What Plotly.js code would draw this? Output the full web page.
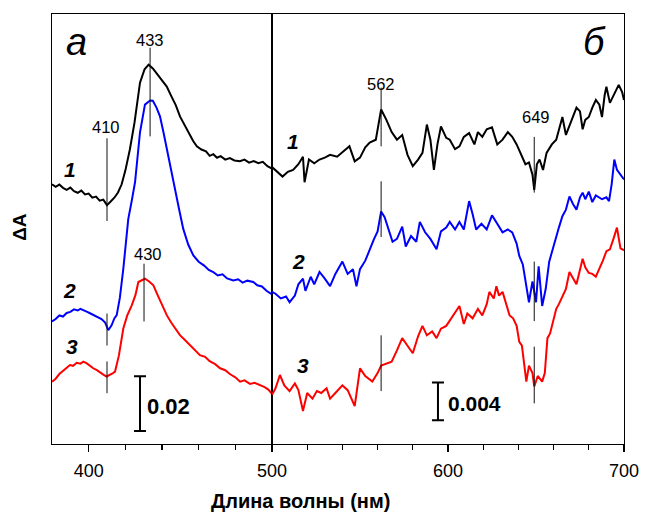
<!DOCTYPE html>
<html>
<head>
<meta charset="utf-8">
<script src="https://cdn.plot.ly/plotly-3.0.1.min.js"></script>
<style>html,body{margin:0;padding:0;background:#fff;}#chart{width:646px;height:513px;}</style>
</head>
<body>
<div id="chart"></div>
<script>
// ---- Panel "а" (380-500 nm), ΔA in units of 1e-3, curves offset as plotted ----
const nmL1 = [380,382,384,386,388,390,392,394,396,398,400,402,404,406,408,410,412,414,416,418,420,422.5,425,428,430.5,432.7,435,437.5,440,442.6,445,447.5,449.8,452,454.5,457,459,461.5,464,466,468,470,472,474.5,477,479.5,482.5,485,487.5,490,492.5,495,497.5,500];
const dAL1 = [94.5,93.6,94.4,93.2,92.5,93.3,92.0,91.4,92.2,90.8,91.1,89.6,90.0,88.5,88.9,86.9,88.2,89.6,91.5,94.5,99.5,107.3,117,131.6,136.5,138.2,136.8,134.5,132.6,130.2,126.8,123.4,119.3,116.5,113.5,110.3,108.4,107.2,106.5,104.9,105.5,104.2,104.8,103.5,104.1,103.2,102.9,103.5,102.4,103.0,102.2,102.7,101.1,100.2];

const nmL2 = [380,382,384,386,388,390,392,394,395.5,397.5,399.5,401,403,405,407,409,410.7,412.5,414,415.3,417,418.9,420.3,421.6,423.5,425.3,428,430.7,433.5,435,437,438.9,440.8,442.6,445,447.1,449.3,451.6,454.3,457.1,460,463,465.5,468,470.5,473,475.5,478.9,481.5,484,486.5,489.8,492,494.5,497,500];
const dAL2 = [44.4,45.3,46.6,46.2,47.5,47.9,48.8,48.4,49.0,48.5,47.8,47.3,46.7,46.0,45.3,44.0,41.2,43.0,45.5,46.7,53,63.6,73,81.8,88.5,95.3,113.5,123.6,125.1,125.0,122.5,119.3,113.5,107.3,99.5,92.7,85.5,78.2,72.5,68.5,66.2,64.8,63.2,62.4,61.2,61.6,60.1,59.4,59.8,58.6,59.3,58.8,57.6,57.2,55.6,54.3];

const nmL3 = [380,382,384,386,388,389.8,391.5,393.5,395.5,397.1,399,401,402.5,404.5,406.5,408,409.8,411.5,413,414.4,416.5,418.9,421,423.5,425.5,427.1,429,430.7,433,435.3,437.5,440,442.6,445,447.5,449.8,452.5,455,458,460.7,463.5,466,469,471.7,474.5,477,480,482.6,485,488,490.5,493.5,496,498,500];
const dAL3 = [22.4,23.5,25.2,26.4,27.6,28.5,28.2,29.3,29.0,29.7,29.1,28.0,27.3,26.6,25.5,25.0,24.3,24.8,25.4,26.1,32,41.8,46.5,50.3,54.0,58.8,59.5,60.0,59.0,57.6,54.2,50.4,46.7,44.0,41.5,39.4,37.6,36.0,34.2,32.1,31.5,29.9,28.8,27.3,26.6,25.2,24.0,22.4,22.9,21.6,22.0,21.2,20.4,19.5,18.0];

// ---- Panel "б" (500-700 nm), ΔA in units of 1e-3 ----
const nmR1 = [500,503,506,509,512,515,517.6,518.5,521,524,527,530,533,537,540,544,547,550,553,555.5,559,562,565,568,571,574,577,580,583,585.5,588,590,592,594,596,599,601,604,606.5,609,612,615,617,619.5,622,625,628,631,634,636.5,639,642,644,646,648,649,650.5,652,654,656,659,661.5,663,665,667,669,671,673,675,676.5,678,680,682,684,686,687.5,689,690,692,694,695.5,697,699,700];
const dAR1 = [29.2,28.7,28.2,28.7,28.9,29.5,30.3,27.6,30.0,29.6,30.0,30.2,30.5,30.3,30.8,31.4,29.8,30.2,31.3,31.8,32.1,35.3,34.2,32.9,32.1,32.6,30.5,29.3,30.0,30.7,33.7,32.1,28.9,31.6,33.5,32.3,32.1,31.1,31.4,32.4,32.8,31.6,32.9,32.4,33.2,33.4,31.6,32.1,32.9,32.4,31.6,30.3,29.5,29.7,28.4,26.8,29.5,30.0,28.9,30.7,31.6,32.1,33.2,34.5,32.6,33.5,34.4,35.5,35.1,33.2,34.2,34.5,35.5,36.3,35.8,34.5,36.8,37.7,36.0,36.8,37.4,37.9,37.1,36.3];

const nmR2 = [500,502,505,508,510,513,515,517.6,519,522,524,527,530,533,536,540,543,546,548,550,553,555.5,558,560,562,564,566,568.5,571,574,576,579,582,584,587,590,593.5,596,599,601,604,606.5,609,612,614,616,619,622,625,628,631,634,636.5,639,640.5,642.5,644.5,646,648,650,651.5,653.5,655.5,657.5,659.5,661.5,663,665,667,669,671,673,675,676.5,678,680,682,684,687.5,690,691.5,693,694.5,696,698,700];
const dAR2 = [16.0,15.8,15.3,15.5,14.9,15.6,16.8,17.4,16.1,17.6,16.8,18.1,17.4,16.6,17.9,19.2,17.9,18.4,16.6,18.4,19.3,20.5,21.6,22.4,24.5,23.9,22.8,21.3,21.6,22.9,20.8,21.9,21.3,23.4,22.3,21.6,20.5,22.4,22.8,23.4,22.6,23.4,22.6,25.6,24.2,22.6,23.2,22.6,24.1,23.2,22.3,22.6,22.3,21.1,19.8,18.9,16.3,14.9,17.1,14.9,18.7,14.5,16.3,19.2,20.5,21.9,22.8,24.0,24.7,26.1,25.3,24.7,26.0,26.5,25.8,26.6,25.5,26.2,25.8,26.0,25.6,27.4,30.0,28.9,28.4,27.9];

const nmR3 = [500,502,504.5,507,510,513,515,517.6,520,523,525.5,528,531,533,536,540,543,547,550,553,557,560,562,565,568,571,574,577,580,583,585.5,588,591,593.5,596,599,602,604,606.5,609,611,614,617,619.5,622,623.5,626,627.5,629,631,633,635,637,639,640.5,642,644.5,646,648,649,651,653.5,655,656.5,658,661.5,663,665,667,669,671,673,676.5,678,680,682,684,686,688,690,692,694,696,698,700];
const dAR3 = [5.1,5.8,7.2,6.1,5.5,6.3,5.6,3.4,5.3,4.7,5.5,5.3,5.8,4.7,5.3,6.1,5.6,3.9,7.9,7.1,6.5,7.4,8.2,8.4,8.6,9.8,11.1,10.3,9.5,11.3,12.4,11.4,11.8,11.1,12.1,12.4,13.2,13.7,14.5,12.6,13.7,13.2,14.2,13.5,14.7,16.0,15.3,16.6,15.6,16.0,14.7,13.5,13.2,12.4,10.7,10.3,6.5,8.2,7.4,6.0,7.1,6.5,7.4,11.1,11.6,14.2,14.7,15.6,16.3,18.1,17.4,16.8,19.5,18.6,18.0,17.9,17.6,18.4,19.3,20.3,20.5,21.6,22.8,20.6,20.4];

// ---- Peak markers: wavelength, lower and upper ΔA (1e-3) ----
const markL_nm = [410, 433.5, 410, 410, 430.2];
const markL_lo = [81.1, 112.0, 35.6, 18.2, 44.4];
const markL_hi = [111.3, 144.4, 47.3, 29.8, 65.5];
const markR_nm = [562, 562, 562, 649, 649, 649];
const markR_lo = [31.4, 21.8, 5.5, 26.5, 12.9, 4.2];
const markR_hi = [37.6, 27.7, 11.4, 32.4, 19.2, 10.2];

// Peak labels
const peakLabelsL = ['433', '410', '430'];
const peakLabelsL_nm = [433.5, 409.5, 432.4];
const peakLabelsL_y = [147.3, 115.3, 69.1];
const peakLabelsR = ['562', '649'];
const peakLabelsR_nm = [562, 650];
const peakLabelsR_y = [38.0, 34.5];

// Curve numbers
const curveNums = ['1', '2', '3'];
const curveNumL_nm = [389.8, 389.8, 391];
const curveNumL_y = [100, 55.6, 35.3];
const curveNumR_nm = [511.9, 514.8, 517.6];
const curveNumR_y = [31.9, 19.2, 8.2];

// Scale bars (ΔA in 1e-3)
const scaleL = {nm: 428, base: 4.4, size: 20, label: '0.02'};
const scaleR = {nm: 594.3, base: 2.4, size: 4, label: '0.004'};

const colors = ['#000000', '#0000ff', '#ff0000'];
const FONT = 'Liberation Sans, Arial, sans-serif';

const traces = [];
[[nmL1, dAL1], [nmL2, dAL2], [nmL3, dAL3]].forEach((d, i) => {
  traces.push({x: d[0], y: d[1], xaxis: 'x', yaxis: 'y', mode: 'lines',
    line: {color: colors[i], width: 2}, hoverinfo: 'skip'});
});
[[nmR1, dAR1], [nmR2, dAR2], [nmR3, dAR3]].forEach((d, i) => {
  traces.push({x: d[0], y: d[1], xaxis: 'x2', yaxis: 'y2', mode: 'lines',
    line: {color: colors[i], width: 2}, hoverinfo: 'skip'});
});
markL_nm.forEach((n, i) => traces.push({x: [n, n], y: [markL_lo[i], markL_hi[i]], xaxis: 'x', yaxis: 'y',
  mode: 'lines', line: {color: '#111', width: 1}, hoverinfo: 'skip'}));
markR_nm.forEach((n, i) => traces.push({x: [n, n], y: [markR_lo[i], markR_hi[i]], xaxis: 'x2', yaxis: 'y2',
  mode: 'lines', line: {color: '#111', width: 1}, hoverinfo: 'skip'}));
[[scaleL, 'x', 'y'], [scaleR, 'x2', 'y2']].forEach(s => {
  const b = s[0];
  traces.push({x: [b.nm], y: [b.base + b.size / 2], xaxis: s[1], yaxis: s[2], mode: 'markers',
    marker: {size: 1, color: 'rgba(0,0,0,0)'},
    error_y: {type: 'data', array: [b.size / 2], visible: true, width: 6, thickness: 2, color: '#000'},
    hoverinfo: 'skip'});
});

const C = {xanchor: 'center', yanchor: 'middle', showarrow: false};
const annotations = [];
peakLabelsL.forEach((t, i) => annotations.push(Object.assign({xref: 'x', yref: 'y', x: peakLabelsL_nm[i], y: peakLabelsL_y[i],
  text: t, font: {family: FONT, size: 16.5, color: '#000'}}, C)));
peakLabelsR.forEach((t, i) => annotations.push(Object.assign({xref: 'x2', yref: 'y2', x: peakLabelsR_nm[i], y: peakLabelsR_y[i],
  text: t, font: {family: FONT, size: 16.5, color: '#000'}}, C)));
curveNums.forEach((t, i) => {
  annotations.push(Object.assign({xref: 'x', yref: 'y', x: curveNumL_nm[i], y: curveNumL_y[i], text: '<b><i>' + t + '</i></b>',
    font: {family: FONT, size: 21, color: '#000'}}, C));
  annotations.push(Object.assign({xref: 'x2', yref: 'y2', x: curveNumR_nm[i], y: curveNumR_y[i], text: '<b><i>' + t + '</i></b>',
    font: {family: FONT, size: 21, color: '#000'}}, C));
});
annotations.push({xref: 'x', yref: 'y', x: scaleL.nm + 2.5, y: scaleL.base + scaleL.size / 2 - 1, xanchor: 'left', yanchor: 'middle',
  text: '<b>' + scaleL.label + '</b>', showarrow: false, font: {family: FONT, size: 22, color: '#000'}});
annotations.push({xref: 'x2', yref: 'y2', x: scaleR.nm + 4.5, y: scaleR.base + scaleR.size / 2 - 0.2, xanchor: 'left', yanchor: 'middle',
  text: '<b>' + scaleR.label + '</b>', showarrow: false, font: {family: FONT, size: 21, color: '#000'}});
annotations.push(Object.assign({xref: 'paper', yref: 'paper', x: 0.043, y: 0.935, text: '<i>а</i>',
  font: {family: FONT, size: 38, color: '#000'}}, C));
annotations.push(Object.assign({xref: 'paper', yref: 'paper', x: 0.949, y: 0.935, text: '<i>б</i>',
  font: {family: FONT, size: 38, color: '#000'}}, C));
annotations.push(Object.assign({xref: 'paper', yref: 'paper', x: -0.056, y: 0.505, text: '<b>ΔA</b>', textangle: -90,
  font: {family: FONT, size: 19, color: '#000'}}, C));
annotations.push(Object.assign({xref: 'paper', yref: 'paper', x: 0.434, y: -0.133, text: '<b>Длина волны (нм)</b>',
  font: {family: FONT, size: 20, color: '#000'}}, C));

const split = 0.3846;
const axCommon = {showline: true, linecolor: '#000', linewidth: 1.3, mirror: true, showgrid: false, zeroline: false,
  ticks: 'outside', ticklen: 7, tickwidth: 1.2, tickcolor: '#000', ticklabelstandoff: 3,
  tickfont: {family: FONT, size: 18, color: '#000'}, fixedrange: true};
const layout = {
  width: 646, height: 513,
  margin: {l: 52, r: 22, t: 14, b: 69},
  paper_bgcolor: '#fff', plot_bgcolor: '#fff',
  showlegend: false, hovermode: false,
  xaxis: Object.assign({}, axCommon, {domain: [0, split], range: [380, 500], tickvals: [400],
    ticktext: ['400'], anchor: 'y',
    minor: {tickvals: [420, 440, 460, 480], ticks: 'outside', ticklen: 5, tickcolor: '#000', tickwidth: 1.2}}),
  xaxis2: Object.assign({}, axCommon, {domain: [split, 1], range: [500, 700], tickvals: [500, 600, 700],
    ticktext: ['500', '600', '700'], anchor: 'y2',
    minor: {tickvals: [520, 540, 560, 580, 620, 640, 660, 680], ticks: 'outside', ticklen: 5, tickcolor: '#000', tickwidth: 1.2}}),
  yaxis: {domain: [0, 1], range: [-0.36, 156.7], anchor: 'x', showline: true, linecolor: '#000', linewidth: 1.3,
    mirror: true, showgrid: false, zeroline: false, ticks: '', showticklabels: false, fixedrange: true},
  yaxis2: {domain: [0, 1], range: [-0.1, 45.4], anchor: 'x2', showline: true, linecolor: '#000', linewidth: 1.3,
    mirror: true, showgrid: false, zeroline: false, ticks: '', showticklabels: false, fixedrange: true},
  annotations: annotations
};
Plotly.newPlot('chart', traces, layout, {displayModeBar: false, staticPlot: true});
</script>
</body>
</html>
